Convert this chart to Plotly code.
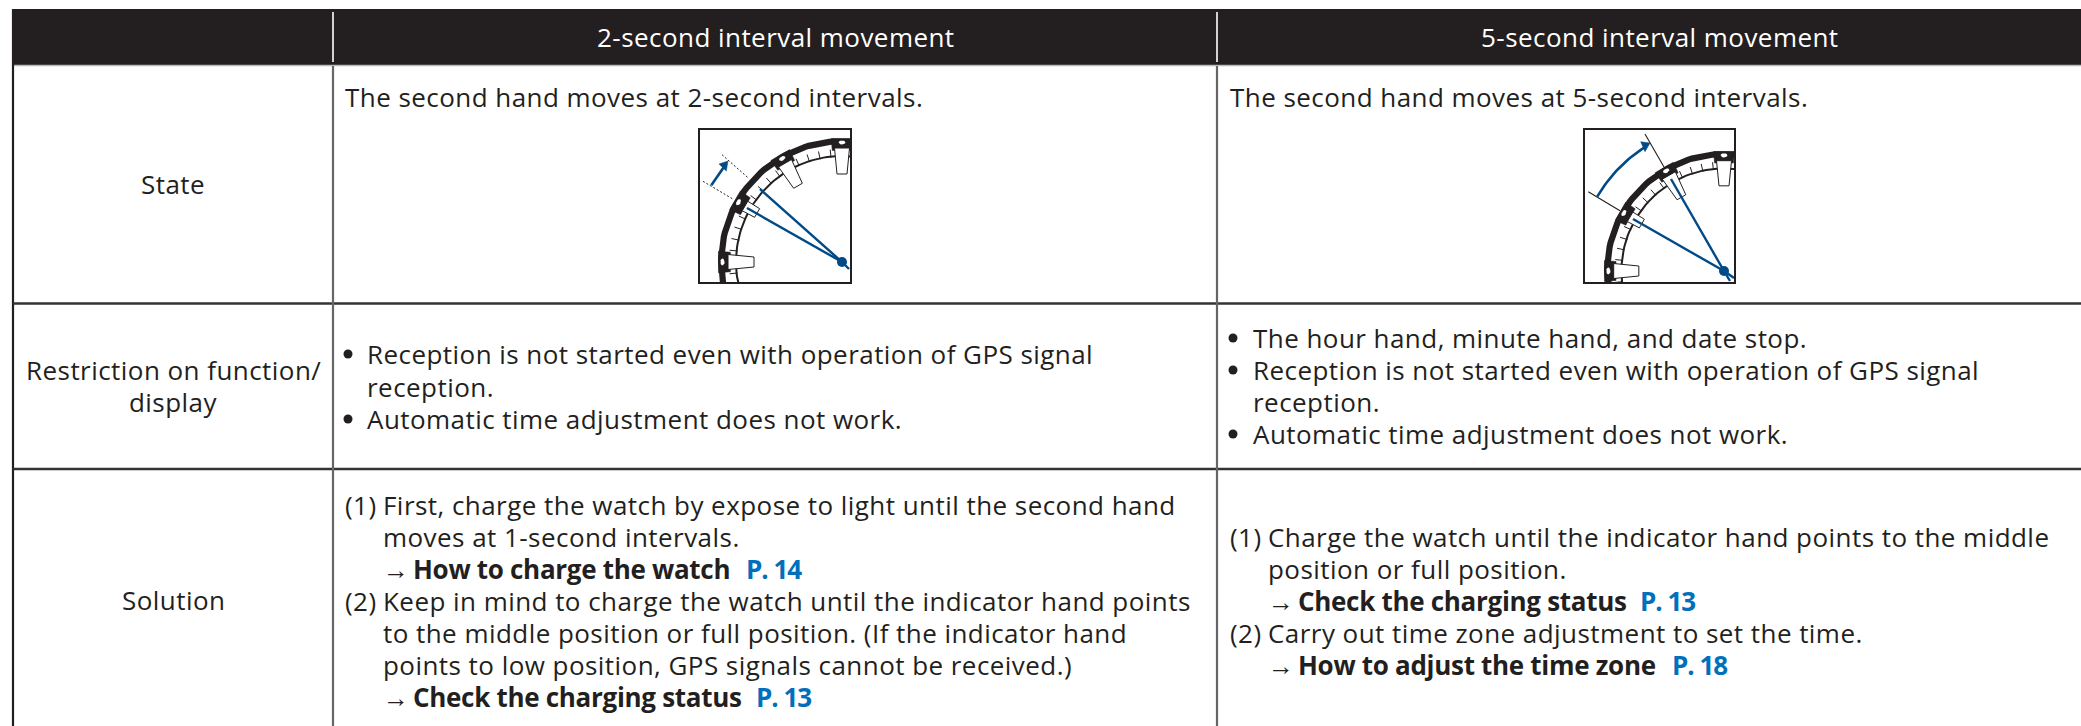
import math
import plotly.graph_objects as go

W, H = 2081, 726
INK = "#231f20"
NAVY = "#004a87"
LINK = "#0070bc"
FONT = "Open Sans"
SIZE = 26
TRACK = "0.45px"
BOLD_TRACK = "-0.3px"
PAGE_TRACK = "-1px"

col_headers = ["2-second interval movement", "5-second interval movement"]
row_labels = ["State", "Restriction on function/", "display", "Solution"]

state_texts = ["The second hand moves at 2-second intervals.",
               "The second hand moves at 5-second intervals."]
restrict_2s = ["Reception is not started even with operation of GPS signal",
               "reception.",
               "Automatic time adjustment does not work."]
restrict_5s = ["The hour hand, minute hand, and date stop.",
               "Reception is not started even with operation of GPS signal",
               "reception.",
               "Automatic time adjustment does not work."]

# (number, text, cross-reference page, gap from the indent to that page label)
solution_2s = [
    ("(1)", "First, charge the watch by expose to light until the second hand", None, 0),
    ("", "moves at 1-second intervals.", None, 0),
    ("", "How to charge the watch", "P. 14", 363),
    ("(2)", "Keep in mind to charge the watch until the indicator hand points", None, 0),
    ("", "to the middle position or full position. (If the indicator hand", None, 0),
    ("", "points to low position, GPS signals cannot be received.)", None, 0),
    ("", "Check the charging status", "P. 13", 373),
]
solution_5s = [
    ("(1)", "Charge the watch until the indicator hand points to the middle", None, 0),
    ("", "position or full position.", None, 0),
    ("", "Check the charging status", "P. 13", 372),
    ("(2)", "Carry out time zone adjustment to set the time.", None, 0),
    ("", "How to adjust the time zone", "P. 18", 404),
]

# watch-face readings: hour positions in degrees from 12 o'clock, anticlockwise
hour_angles = [0, 30, 60, 90, 120]
short_baton = 60
hand_tips_2s = [(-82, -73), (-95, -54)]
hand_tips_5s = [(-53, -92), (-91, -52)]
tails_2s = [(7, 7)]
tails_5s = [(6, 10), (10, 7)]
guides_2s = [((-139, -80.7), (-109.7, -63.3)), ((-120, -107.3), (-94, -84.3))]
guides_5s = [((-135.7, -79.3), (-104, -60.3)), ((-79, -137), (-60, -104))]
arrow_2s = [(-130.7, -76.7), (-116, -98)]
arrow_head_2s = [(-114, -101), (-123, -98), (-115.7, -91)]
arc_5s_angles = (59.6, 33)
arc_5s_radius = 147
arrow_head_5s = [(-74, -128), (-83.3, -129.3), (-79, -119.3)]

fig = go.Figure()


def polar(r, deg):
    a = math.radians(deg)
    return -r * math.sin(a), -r * math.cos(a)


def add_poly(pts, fill, line, lw, ax):
    xs = [p[0] for p in pts] + [pts[0][0]]
    ys = [p[1] for p in pts] + [pts[0][1]]
    fig.add_trace(go.Scatter(x=xs, y=ys, mode="lines", fill="toself", fillcolor=fill,
                             line=dict(color=line, width=lw), xaxis=ax[0], yaxis=ax[1],
                             hoverinfo="skip", showlegend=False))


def add_line(pts, color, lw, ax, dash="solid"):
    fig.add_trace(go.Scatter(x=[p[0] for p in pts], y=[p[1] for p in pts], mode="lines",
                             line=dict(color=color, width=lw, dash=dash), xaxis=ax[0], yaxis=ax[1],
                             hoverinfo="skip", showlegend=False))


def watch(ax, R, tips, tails, guides, guide_dash, guide_w):
    k = R / 124
    arc = lambda r: [polar(r * k, d) for d in range(-6, 136, 2)]
    add_line(arc(120.8), INK, 6.2, ax)
    add_line(arc(106), INK, 2.0, ax)
    for d in range(0, 132, 6):
        if d % 30:
            add_line([polar(105 * k, d), polar(113 * k, d)], INK, 1.0, ax)
    for d in hour_angles:
        add_poly([polar(112 * k, d - 5), polar(124 * k, d - 5), polar(124 * k, d + 5), polar(112 * k, d + 5)],
                 INK, INK, 0.5, ax)
    for d in hour_angles:
        if d == short_baton:
            r0, r1, w0, w1 = 112, 98, 5.5, 5
        else:
            r0, r1, w0, w1 = 114, 88, 7.5, 5
        a = math.radians(d)
        tx, ty = -math.cos(a), math.sin(a)
        p0, p1 = polar(r0 * k, d), polar(r1 * k, d)
        add_poly([(p0[0] + w0 * tx, p0[1] + w0 * ty), (p1[0] + w1 * tx, p1[1] + w1 * ty),
                  (p1[0] - w1 * tx, p1[1] - w1 * ty), (p0[0] - w0 * tx, p0[1] - w0 * ty)],
                 "white", INK, 1.0, ax)
        cx, cy = polar(119.5 * k, d)
        ell = []
        for t in range(0, 360, 30):
            u, v = 3.4 * math.cos(math.radians(t)), 2.1 * math.sin(math.radians(t))
            rx, ry = -math.sin(a), -math.cos(a)
            ell.append((cx + u * tx + v * rx, cy + u * ty + v * ry))
        add_poly(ell, "white", "white", 0, ax)
    for g in guides:
        add_line(list(g), INK, guide_w, ax, guide_dash)
    for t in tips:
        add_line([(0, 0), t], NAVY, 2.4, ax)
    for t in tails:
        add_line([(0, 0), t], NAVY, 2.4, ax)
    fig.add_trace(go.Scatter(x=[0], y=[0], mode="markers", marker=dict(color=NAVY, size=10),
                             xaxis=ax[0], yaxis=ax[1], hoverinfo="skip", showlegend=False))


page = ("x", "y")
add_poly([(13, 9), (W, 9), (W, 65), (13, 65)], INK, INK, 0, page)
add_line([(13, 65.5), (W, 65.5)], "#bbbbbb", 1.5, page)
add_line([(13, 9), (13, H)], INK, 2.2, page)
add_line([(13, 303.5), (W, 303.5)], "#333333", 2.4, page)
add_line([(13, 469), (W, 469)], "#333333", 2.4, page)
for vx in (333, 1217):
    add_line([(vx, 66), (vx, H)], "#666666", 2.2, page)
    add_line([(vx, 12), (vx, 62)], "white", 1.6, page)

ax1, ax2 = ("x2", "y2"), ("x3", "y3")
watch(ax1, 124, hand_tips_2s, tails_2s, guides_2s, "2px,2px", 1)
add_line(arrow_2s, NAVY, 2.6, ax1)
add_poly(arrow_head_2s, NAVY, NAVY, 0.5, ax1)
watch(ax2, 120, hand_tips_5s, tails_5s, guides_5s, "solid", 1.1)
add_line([polar(arc_5s_radius, arc_5s_angles[0] + (arc_5s_angles[1] - arc_5s_angles[0]) * i / 20) for i in range(21)],
         NAVY, 2.6, ax2)
add_poly(arrow_head_5s, NAVY, NAVY, 0.5, ax2)


def text(x, y, s, color=INK, anchor="left", track=TRACK):
    body = f"<span style='letter-spacing:{track}'>{s}</span>"
    fig.add_annotation(x=x, y=y, text=body, xref="x", yref="y", showarrow=False, xanchor=anchor, yanchor="middle",
                       align="center" if anchor == "center" else "left", borderpad=0,
                       font=dict(family=FONT, size=SIZE, color=color))


def solution(rows, first_y, x_num, x_indent):
    for i, (num, s, page_label, page_gap) in enumerate(rows):
        y = first_y + i * 32
        if num:
            text(x_num, y, num)
        if page_label:
            text(x_indent, y, "→", track="0px")
            text(x_indent + 30, y, f"<b>{s}</b>", track=BOLD_TRACK)
            text(x_indent + page_gap, y, f"<b>{page_label}</b>", color=LINK, track=PAGE_TRACK)
        else:
            text(x_indent, y, s)


bullet_xs, bullet_ys = [], []

text(776, 37, col_headers[0], "white", "center")
text(1660, 37, col_headers[1], "white", "center")
text(173, 184, row_labels[0], anchor="center")
text(173, 370, row_labels[1], anchor="center")
text(173, 402, row_labels[2], anchor="center")
text(173, 600, row_labels[3], anchor="center")
text(344, 97, state_texts[0])
text(1229, 97, state_texts[1])

for y, s, b in zip((354, 387, 419), restrict_2s, (True, False, True)):
    if b:
        bullet_xs.append(348)
        bullet_ys.append(y)
    text(366, y, s)
for y, s, b in zip((338, 370, 402, 434), restrict_5s, (True, True, False, True)):
    if b:
        bullet_xs.append(1233)
        bullet_ys.append(y)
    text(1252, y, s)
fig.add_trace(go.Scatter(x=bullet_xs, y=bullet_ys, mode="markers", marker=dict(color=INK, size=9),
                         hoverinfo="skip", showlegend=False))

solution(solution_2s, 505, 344, 382)
solution(solution_5s, 537, 1229, 1267)

hidden = dict(visible=True, showgrid=False, zeroline=False, showticklabels=False, ticks="")
fig.update_layout(
    width=W, height=H, margin=dict(l=0, r=0, t=0, b=0), paper_bgcolor="white", plot_bgcolor="rgba(0,0,0,0)",
    showlegend=False,
    xaxis=dict(range=[0, W], domain=[0, 1], visible=False),
    yaxis=dict(range=[H, 0], domain=[0, 1], visible=False),
    xaxis2=dict(range=[-142, 8], domain=[700 / W, 850 / W], anchor="y2",
                showline=True, mirror=True, linecolor=INK, linewidth=2, **hidden),
    yaxis2=dict(range=[20, -132], domain=[1 - 282 / H, 1 - 130 / H], anchor="x2",
                showline=True, mirror=True, linecolor=INK, linewidth=2, **hidden),
    xaxis3=dict(range=[-139, 10], domain=[1585 / W, 1734 / W], anchor="y3",
                showline=True, mirror=True, linecolor=INK, linewidth=2, **hidden),
    yaxis3=dict(range=[11, -141], domain=[1 - 282 / H, 1 - 130 / H], anchor="x3",
                showline=True, mirror=True, linecolor=INK, linewidth=2, **hidden),
)
fig.write_html("out.html", config={"displayModeBar": False},
               post_script="document.body.style.margin='0';document.body.style.overflow='hidden';")
